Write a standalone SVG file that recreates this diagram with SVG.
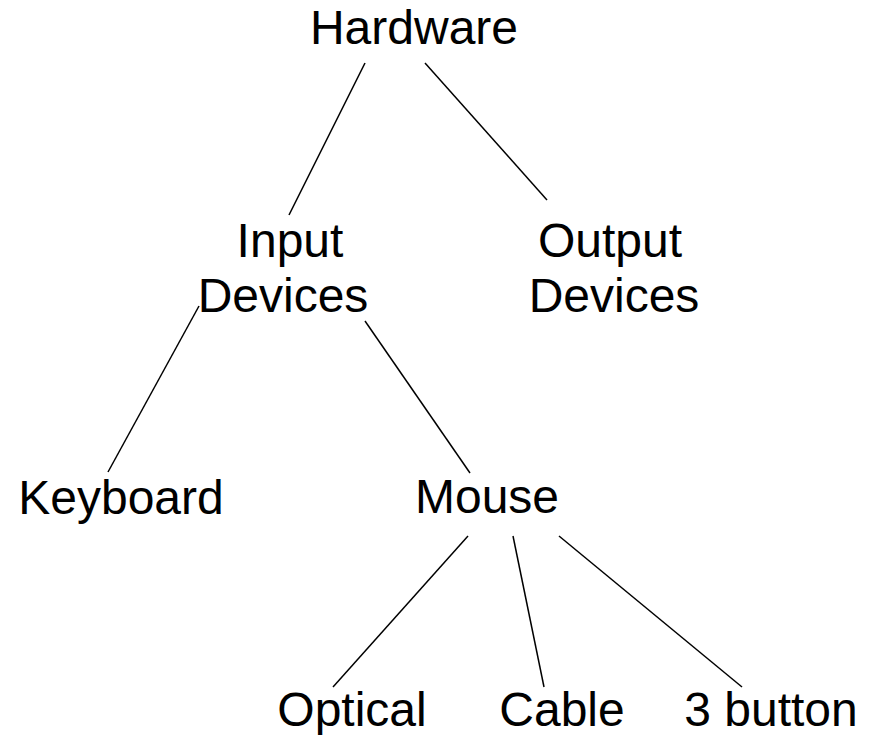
<svg xmlns="http://www.w3.org/2000/svg" width="869" height="735" viewBox="0 0 869 735">
  <style>
    .lbl { font-family: "Liberation Sans", Arial, sans-serif; font-size: 48px; fill: #000; text-anchor: middle; }
    .edge { stroke: #000; stroke-width: 1.5; fill: none; }
  </style>
  <rect width="869" height="735" fill="#fff"/>
  <!-- tree branches -->
  <g id="connectors">
    <line class="edge" x1="365" y1="63" x2="289" y2="215"/>
    <line class="edge" x1="425" y1="63" x2="547" y2="200"/>
    <line class="edge" x1="199" y1="306" x2="108" y2="472"/>
    <line class="edge" x1="365" y1="321" x2="470" y2="473"/>
    <line class="edge" x1="468" y1="536" x2="333" y2="687"/>
    <line class="edge" x1="513" y1="536" x2="544" y2="687"/>
    <line class="edge" x1="559" y1="536" x2="742" y2="687"/>
  </g>
  <g id="hardware"><text class="lbl" x="414" y="44">Hardware</text></g>
  <g id="input-devices">
    <text class="lbl" x="290" y="257">Input</text>
    <text class="lbl" x="283" y="312">Devices</text>
  </g>
  <g id="output-devices">
    <text class="lbl" x="610" y="257">Output</text>
    <text class="lbl" x="614" y="312">Devices</text>
  </g>
  <g id="keyboard"><text class="lbl" x="121" y="514">Keyboard</text></g>
  <g id="mouse"><text class="lbl" x="487" y="513">Mouse</text></g>
  <g id="optical"><text class="lbl" x="352" y="726">Optical</text></g>
  <g id="cable"><text class="lbl" x="562" y="726">Cable</text></g>
  <g id="three-button"><text class="lbl" x="771" y="726">3 button</text></g>
</svg>
